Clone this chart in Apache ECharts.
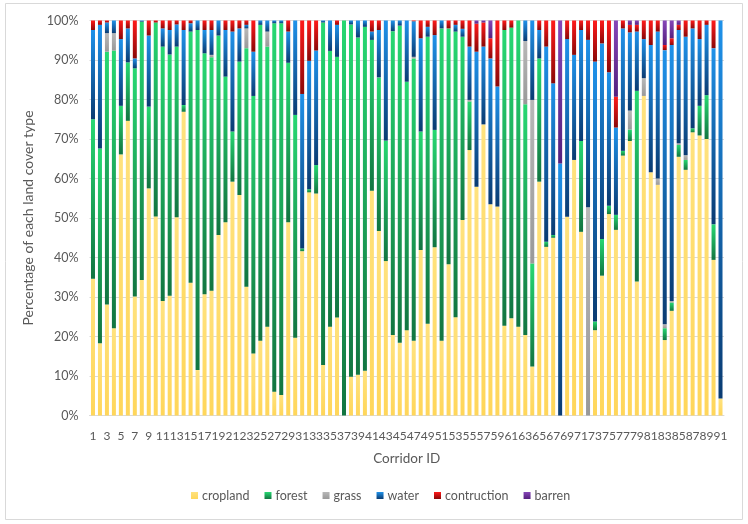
<!DOCTYPE html>
<html><head><meta charset="utf-8">
<script src="https://cdn.jsdelivr.net/npm/echarts@6/dist/echarts.min.js"></script>
<style>html,body{margin:0;padding:0;background:#fff}#c{width:748px;height:524px}</style>
</head><body><div id="c"></div>
<script>
const corridorIds = ['1','2','3','4','5','6','7','8','9','10','11','12','13','14','15','16','17','18','19','20','21','22','23','24','25','26','27','28','29','30','31','32','33','34','35','36','37','38','39','40','41','42','43','44','45','46','47','48','49','50','51','52','53','54','55','56','57','58','59','60','61','62','63','64','65','66','67','68','69','70','71','72','73','74','75','76','77','78','79','80','81','82','83','84','85','86','87','88','89','90','91'];
const yTicks = [0,10,20,30,40,50,60,70,80,90,100];
const cropland = [34.6,18.3,28.1,22.1,66.1,74.6,30.1,34.3,57.5,50.4,29.0,30.3,50.2,76.9,33.6,11.5,30.7,31.6,45.7,48.9,59.2,55.8,32.6,15.7,18.9,22.5,6.0,5.2,48.9,19.7,41.6,56.5,56.2,12.8,22.5,24.8,0,9.8,10.3,11.3,56.9,46.7,39.1,20.4,18.4,21.6,18.9,41.9,23.2,42.6,18.9,38.3,24.9,49.5,67.2,57.9,73.7,53.5,52.9,22.7,24.6,22.5,20.4,12.4,59.2,42.7,45.0,0,50.3,64.7,46.5,0,21.6,35.4,51.0,47.0,65.8,69.5,33.9,80.9,61.6,58.4,19.1,26.5,65.5,62.2,71.7,70.9,70.0,39.4,4.3];
const forest = [40.4,49.3,64.0,70.3,12.3,14.8,57.8,65.4,20.7,49.1,64.4,61.1,43.2,1.7,63.6,86.1,61.0,59.1,50.5,36.9,12.7,33.8,60.4,65.2,80.0,70.9,93.3,94.1,40.4,56.4,0.7,0.8,7.2,86.7,69.8,66.0,100,89.2,85.4,87.1,38.2,38.9,30.5,76.9,80.3,62.9,71.5,30.0,72.7,29.7,79.1,59.7,72.3,46.4,12.3,0,0,0,0,74.9,73.6,77.5,58.4,26.1,31.2,1.3,0.7,0,0,0,23.0,0,2.2,9.3,2.1,3.8,1.2,2.9,48.3,0,0,0,3.0,2.1,3.0,2.5,1.0,7.5,11.1,9.0,0];
const grass = [0,0,4.7,4.4,0,0,0,0,0,0,0,0,0,0,0,0,0,0.6,0,0,0,0,5.0,0,0,3.8,0,0,0,0,0,0,0,0,0,0,0,0,0,0,0,0,0,0,0,0,0.4,0,0,0,0,0,0,0,0.4,0,0,0,0,0,0,0,16.0,41.4,0,0,0,0,0,0,0,52.7,0,0,0,0,0,4.8,0,4.5,0,1.6,1.0,0.4,0.4,1.2,0,0,0,0,0];
const water = [22.6,31.3,2.7,3.2,16.9,8.6,2.5,0.3,18.0,0,4.6,6.2,5.6,19.0,2.1,2.4,5.9,6.3,3.8,11.8,25.3,8.4,0.9,11.2,1.1,2.8,0.7,0.7,7.9,23.9,39.1,32.5,29.0,0.5,7.7,8.1,0,1.0,4.3,1.6,2.1,12.0,30.4,2.7,1.3,15.5,9.0,23.6,2.5,24.0,2.0,0,1.7,2.0,13.5,34.2,19.7,36.9,30.4,0,0,0,5.2,20.1,7.2,49.4,38.4,63.8,45.0,26.6,28.1,42.4,65.8,49.5,33.8,22.1,31.0,19.8,15.0,9.9,32.2,37.2,69.4,64.8,28.7,30.0,25.3,16.9,17.8,44.6,95.7];
const construction = [2.4,1.1,0.5,0,4.7,2.0,9.6,0,3.8,0.5,2.0,2.4,1.0,2.4,0.7,0,2.4,2.4,0,2.4,2.8,2.0,1.1,7.9,0,0,0,0,2.8,0,18.6,10.2,7.6,0,0,1.1,0,0,0,0,2.8,2.4,0,0,0,0,0.2,4.5,1.6,3.7,0,2.0,1.1,2.1,6.6,7.1,6.1,5.1,16.7,2.4,1.8,0,0,0,2.4,6.6,15.9,0,4.7,8.7,2.4,4.9,10.4,5.8,13.1,7.8,2.0,1.9,1.7,4.7,6.2,2.8,1.3,1.7,1.3,4.1,2.0,4.7,1.1,7.0,0];
const barren = [0,0,0,0,0,0,0,0,0,0,0,0,0,0,0,0,0,0,0,0,0,0,0,0,0,0,0,0,0,0,0,0,0,0,0,0,0,0,0,0,0,0,0,0,0,0,0,0,0,0,0,0,0,0,0,0.8,0.5,4.5,0,0,0,0,0,0,0,0,0,36.2,0,0,0,0,0,0,0,19.3,0,1.1,1.1,0,0,0,6.2,4.5,1.1,0,0,0,0,0,0];

function grad(top, bottom){
  return {type:'linear',x:0,y:0,x2:0,y2:1,colorStops:[{offset:0,color:top},{offset:1,color:bottom}]};
}
const seriesDefs = [
  ['cropland', cropland, grad('#FFE27E','#FFD65A')],
  ['forest', forest, grad('#27D872','#127541')],
  ['grass', grass, grad('#B8B8B8','#999999')],
  ['water', water, grad('#1F92EA','#0A3B72')],
  ['contruction', construction, grad('#FF1A1A','#8A0808')],
  ['barren', barren, grad('#8646B8','#55207E')]
];
const font = 'Lato, "Open Sans", sans-serif';
const chart = echarts.init(document.getElementById('c'));
chart.setOption({
  animation:false,
  backgroundColor:'#fff',
  graphic:[{type:'rect',shape:{x:5.5,y:3.5,width:737,height:516},style:{fill:'none',stroke:'#D9D9D9',lineWidth:1},silent:true}],
  grid:{left:89.5,right:24,top:20.5,bottom:108.5,containLabel:false},
  legend:{
    data:seriesDefs.map(d=>d[0]),
    bottom:17,left:186,
    itemWidth:7,itemHeight:7,itemGap:15,
    icon:'rect',
    textStyle:{color:'#595959',fontSize:12.5,fontFamily:font,padding:[0,0,0,-1]}
  },
  xAxis:{
    type:'category',data:corridorIds,
    name:'Corridor ID',nameLocation:'middle',nameGap:36,
    nameTextStyle:{color:'#595959',fontSize:13.5,fontFamily:font},
    axisLine:{lineStyle:{color:'#D9D9D9'}},
    axisTick:{show:false},
    axisLabel:{interval:1,color:'#595959',fontSize:12,fontFamily:font,margin:15}
  },
  yAxis:{
    type:'value',min:0,max:100,interval:10,
    name:'Percentage of each land cover type',nameLocation:'middle',nameGap:48,
    nameTextStyle:{color:'#595959',fontSize:14,fontFamily:font},
    axisLine:{show:false},axisTick:{show:false},
    splitLine:{lineStyle:{color:'#D9D9D9'}},
    axisLabel:{formatter:'{value}%',color:'#595959',fontSize:12.5,fontFamily:font,margin:11}
  },
  series:seriesDefs.map(d=>({
    name:d[0],type:'bar',stack:'total',data:d[1],barWidth:4,
    itemStyle:{color:d[2]}
  }))
});
</script></body></html>
